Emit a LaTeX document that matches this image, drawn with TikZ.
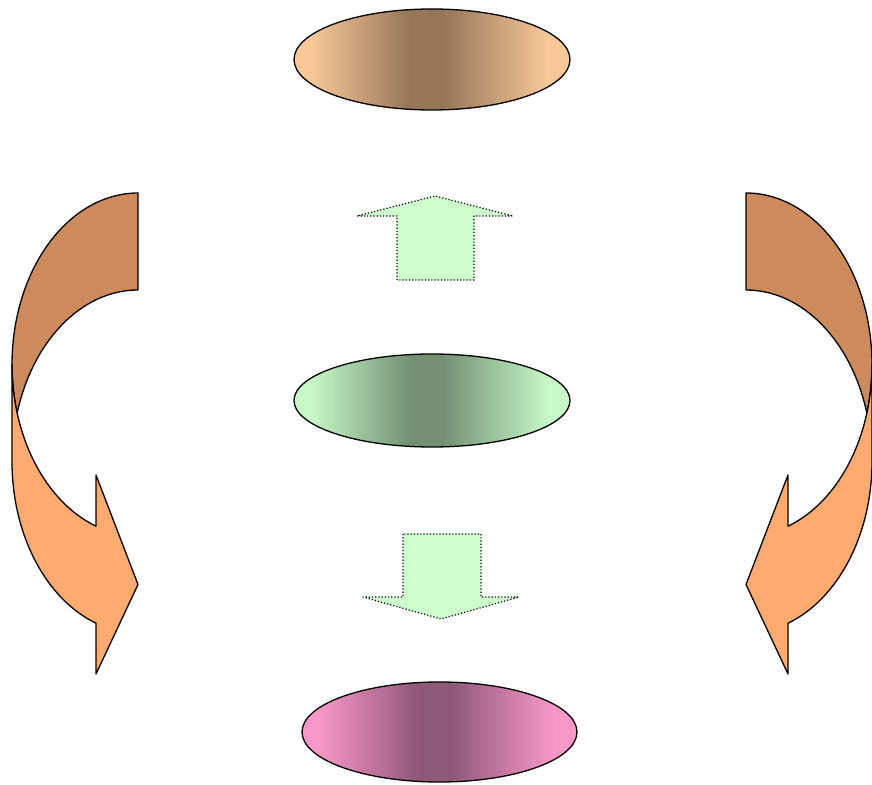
\documentclass[tikz,border=0pt]{standalone}
\usepackage{tikz}
\usetikzlibrary{shapes.geometric}
\definecolor{peach}{HTML}{F8C898}
\definecolor{bronze}{HTML}{957658}
\definecolor{mint}{HTML}{C8F8C8}
\definecolor{sage}{HTML}{739073}
\definecolor{rose}{HTML}{F898C8}
\definecolor{plum}{HTML}{905878}
\definecolor{blockgreen}{HTML}{CCFFCC}
\definecolor{bandlight}{HTML}{FFAA6E}
\definecolor{banddark}{HTML}{CD8A5C}
% edge - centre - edge, flat near the rim and in the middle
\pgfdeclarehorizontalshading{peachband}{100bp}{color(0bp)=(peach); color(28bp)=(peach); color(46bp)=(bronze); color(52bp)=(bronze); color(71bp)=(peach); color(100bp)=(peach)}
\pgfdeclarehorizontalshading{mintband}{100bp}{color(0bp)=(mint); color(28bp)=(mint); color(46bp)=(sage); color(52bp)=(sage); color(71bp)=(mint); color(100bp)=(mint)}
\pgfdeclarehorizontalshading{roseband}{100bp}{color(0bp)=(rose); color(28bp)=(rose); color(46bp)=(plum); color(52bp)=(plum); color(71bp)=(rose); color(100bp)=(rose)}
\tikzset{every picture/.style={line width=1.3pt}}
\tikzset{
	stage/.style={ellipse, draw=black, inner sep=0pt, minimum width=276pt},
	block/.style={draw=black, dotted, line width=1.2pt, line join=round, fill=blockgreen},
	band/.style={draw=black, line join=round}
}
% one curved arrow, flat end on the right
\newcommand{\curvedband}{%
	\filldraw[band, fill=banddark] (138,591)
		arc[start angle=90, end angle=196.43, x radius=126, y radius=171.5]
		arc[start angle=163.57, end angle=90, x radius=126, y radius=171.5] -- cycle;
	\filldraw[band, fill=bandlight] (12,419.5)
		arc[start angle=180, end angle=250.53, x radius=126, y radius=171.5]
		-- (96,309) -- (138,199.5) -- (96,110) -- (96,160.8)
		arc[start angle=250.53, end angle=180, x radius=126, y radius=171.5] -- cycle;
}

\begin{document}
\begin{tikzpicture}[x=1pt, y=1pt]
	\useasboundingbox (0,0) rectangle (872,784);
	%
	\node[stage, minimum height=101pt, shading=peachband] (upper) at (432,724.5) {};
	\node[stage, minimum height=93pt, shading=mintband] (centre) at (432,383.5) {};
	\node[stage, minimum width=275pt, minimum height=100pt, shading=roseband] (lower) at (439.5,52) {};
	%
	\filldraw[block] (397,504) -- (397,568) -- (357,568) -- (435,588) -- (513,568) -- (474,568) -- (474,504) -- cycle;
	\filldraw[block] (403,250) -- (403,187) -- (363,187) -- (441,165) -- (519,187) -- (481,187) -- (481,250) -- cycle;
	%
	\curvedband
	\begin{scope}[xshift=884pt, xscale=-1]
		\curvedband
	\end{scope}
\end{tikzpicture}
\end{document}
